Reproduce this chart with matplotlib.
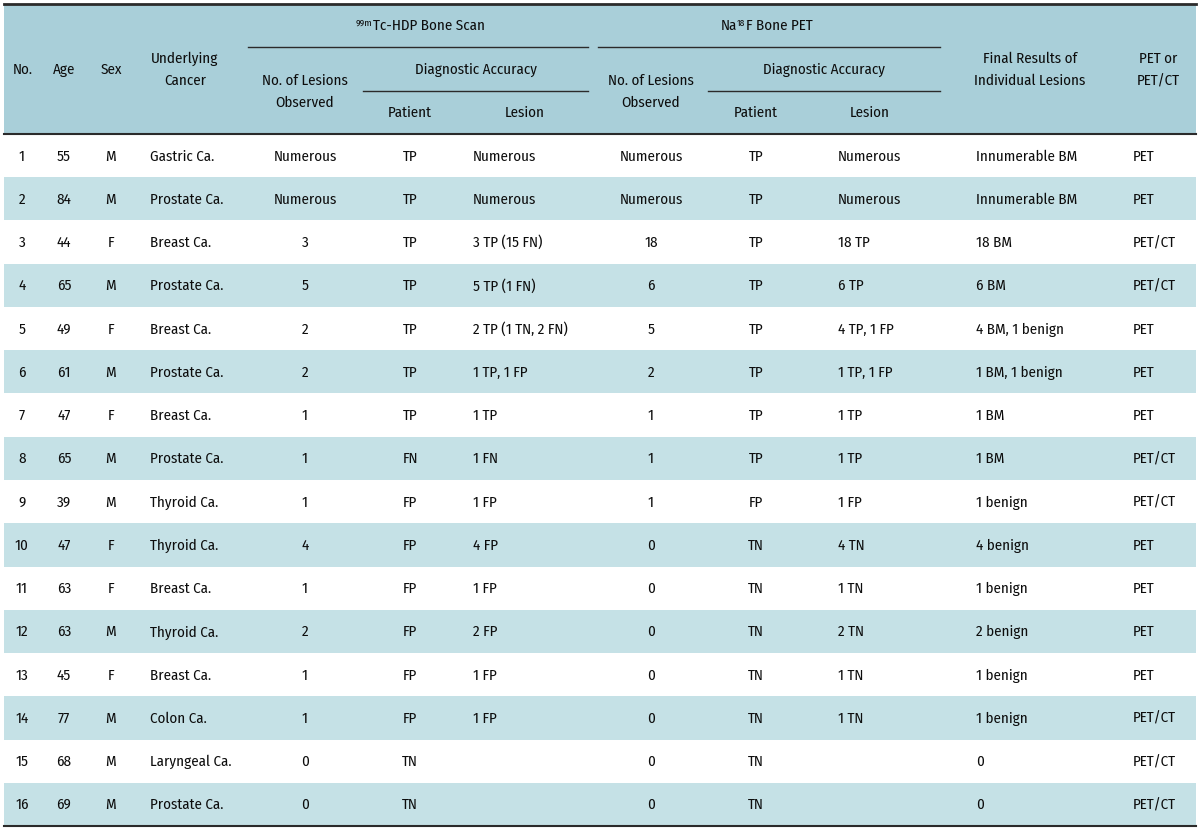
import matplotlib
matplotlib.use("Agg")
import matplotlib.pyplot as plt

plt.rcParams['font.family'] = ['Fira Sans Condensed', 'DejaVu Sans']
plt.rcParams['font.weight'] = 'normal'

# ---------------- data ----------------
patient_no = [str(i) for i in range(1, 17)]
age = ["55", "84", "44", "65", "49", "61", "47", "65", "39", "47", "63", "63", "45", "77", "68", "69"]
sex = ["M", "M", "F", "M", "F", "M", "F", "M", "M", "F", "F", "M", "F", "M", "M", "M"]
cancer = ["Gastric Ca.", "Prostate Ca.", "Breast Ca.", "Prostate Ca.", "Breast Ca.", "Prostate Ca.",
          "Breast Ca.", "Prostate Ca.", "Thyroid Ca.", "Thyroid Ca.", "Breast Ca.", "Thyroid Ca.",
          "Breast Ca.", "Colon Ca.", "Laryngeal Ca.", "Prostate Ca."]
bs_lesions = ["Numerous", "Numerous", "3", "5", "2", "2", "1", "1", "1", "4", "1", "2", "1", "1", "0", "0"]
bs_patient = ["TP", "TP", "TP", "TP", "TP", "TP", "TP", "FN", "FP", "FP", "FP", "FP", "FP", "FP", "TN", "TN"]
bs_lesion = ["Numerous", "Numerous", "3 TP (15 FN)", "5 TP (1 FN)", "2 TP (1 TN, 2 FN)", "1 TP, 1 FP",
             "1 TP", "1 FN", "1 FP", "4 FP", "1 FP", "2 FP", "1 FP", "1 FP", "", ""]
pet_lesions = ["Numerous", "Numerous", "18", "6", "5", "2", "1", "1", "1", "0", "0", "0", "0", "0", "0", "0"]
pet_patient = ["TP", "TP", "TP", "TP", "TP", "TP", "TP", "TP", "FP", "TN", "TN", "TN", "TN", "TN", "TN", "TN"]
pet_lesion = ["Numerous", "Numerous", "18 TP", "6 TP", "4 TP, 1 FP", "1 TP, 1 FP", "1 TP", "1 TP",
              "1 FP", "4 TN", "1 TN", "2 TN", "1 TN", "1 TN", "", ""]
final_results = ["Innumerable BM", "Innumerable BM", "18 BM", "6 BM", "4 BM, 1 benign", "1 BM, 1 benign",
                 "1 BM", "1 BM", "1 benign", "4 benign", "1 benign", "2 benign", "1 benign", "1 benign",
                 "0", "0"]
modality = ["PET", "PET", "PET/CT", "PET/CT", "PET", "PET", "PET", "PET/CT", "PET/CT", "PET", "PET",
            "PET", "PET", "PET/CT", "PET/CT", "PET/CT"]

# ---------------- layout ----------------
W, H = 1200, 830
fig = plt.figure(figsize=(12, 8.3), dpi=100)
ax = fig.add_axes([0, 0, 1, 1])
ax.set_xlim(0, W)
ax.set_ylim(H, 0)
ax.axis('off')
renderer = fig.canvas.get_renderer()

HEAD_BG = '#a9cfd9'
ROW_BG = '#c5e1e6'
LINE = '#2b2b2b'
TXT = '#0d0d0d'

FS = 10.8
SUP = 6.8
CAP = 10.0   # cap height in px

x0, x1 = 4, 1196
head_top, head_bot = 4, 134
row_h = (826 - head_bot) / 16

ax.add_patch(plt.Rectangle((x0, head_top), x1 - x0, head_bot - head_top, color=HEAD_BG, lw=0, zorder=0))
for i in range(16):
    if i % 2 == 1:
        ax.add_patch(plt.Rectangle((x0, head_bot + i * row_h), x1 - x0, row_h, color=ROW_BG, lw=0, zorder=0))

ax.plot([x0, x1], [head_top, head_top], color=LINE, lw=2.0)
ax.plot([x0, x1], [head_bot, head_bot], color=LINE, lw=1.5)
ax.plot([x0, x1], [826, 826], color=LINE, lw=1.5)
ax.plot([248, 588], [47, 47], color=LINE, lw=1.0)
ax.plot([598, 940], [47, 47], color=LINE, lw=1.0)
ax.plot([363, 588], [91, 91], color=LINE, lw=1.0)
ax.plot([708, 940], [91, 91], color=LINE, lw=1.0)


def width_px(s, fs):
    tt = ax.text(0, 0, s, fontsize=fs)
    w = tt.get_window_extent(renderer).width
    tt.remove()
    return w


def t(x, y, s, ha='center', fs=None):
    ax.text(x, y + CAP / 2, s, ha=ha, va='baseline', fontsize=fs or FS, color=TXT)


def rich(xc, y, parts):
    """parts: list of (text, is_superscript). Centered at xc."""
    widths = [width_px(s, SUP if sup else FS) for s, sup in parts]
    x = xc - sum(widths) / 2
    for (s, sup), w in zip(parts, widths):
        if sup:
            ax.text(x, y + CAP / 2 - CAP * 0.45, s, ha='left', va='baseline', fontsize=SUP, color=TXT)
        else:
            ax.text(x, y + CAP / 2, s, ha='left', va='baseline', fontsize=FS, color=TXT)
        x += w + (0.5 if sup else 0)

# header text
t(23, 69, "No.")
t(64, 69, "Age")
t(111, 69, "Sex")
t(185, 58, "Underlying")
t(185, 80, "Cancer")
t(305, 80, "No. of Lesions")
t(305, 102, "Observed")
t(476, 69, "Diagnostic Accuracy")
t(410, 112, "Patient")
t(525, 112, "Lesion")
t(651, 80, "No. of Lesions")
t(651, 102, "Observed")
t(824, 69, "Diagnostic Accuracy")
t(756, 112, "Patient")
t(870, 112, "Lesion")
t(1030, 58, "Final Results of")
t(1030, 80, "Individual Lesions")
t(1158, 58, "PET or")
t(1158, 80, "PET/CT")

rich(420, 25, [("99m", True), ("Tc-HDP Bone Scan", False)])
rich(766, 25, [("Na", False), ("18", True), ("F Bone PET", False)])

# body
columns = [
    (patient_no, 22, 'center'),
    (age, 64, 'center'),
    (sex, 111, 'center'),
    (cancer, 150, 'left'),
    (bs_lesions, 305, 'center'),
    (bs_patient, 410, 'center'),
    (bs_lesion, 473, 'left'),
    (pet_lesions, 651, 'center'),
    (pet_patient, 756, 'center'),
    (pet_lesion, 838, 'left'),
    (final_results, 976, 'left'),
    (modality, 1133, 'left'),
]
for vals, x, ha in columns:
    for i, v in enumerate(vals):
        y = head_bot + (i + 0.5) * row_h
        t(x, y, v, ha=ha)

fig.savefig("out.png", dpi=100, facecolor='white')
